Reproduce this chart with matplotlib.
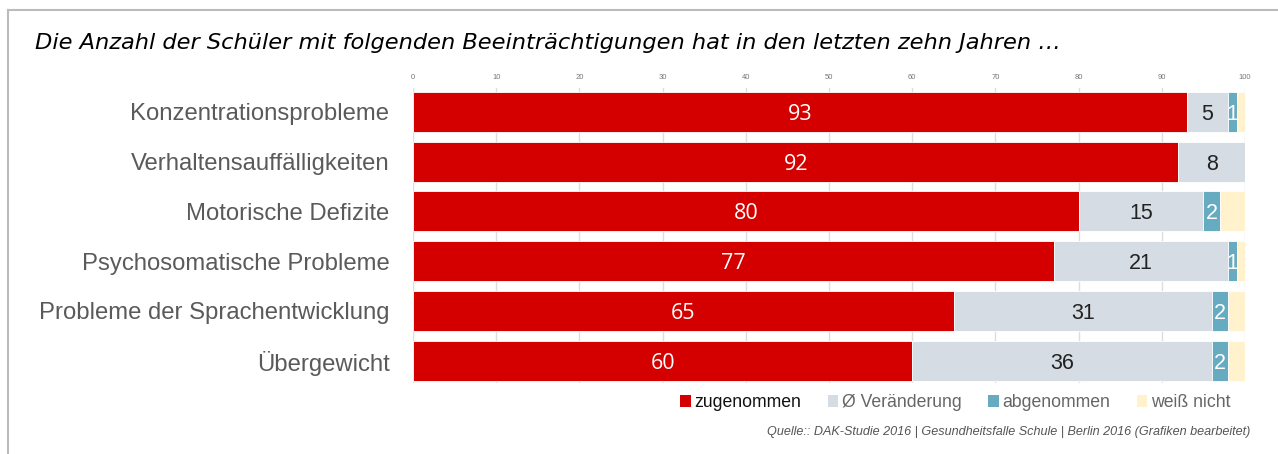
import matplotlib.pyplot as plt
import numpy as np
from matplotlib.lines import Line2D
from matplotlib.patches import Patch

categories = ["Konzentrationsprobleme", "Verhaltensauffälligkeiten", "Motorische Defizite",
              "Psychosomatische Probleme", "Probleme der Sprachentwicklung", "Übergewicht"]
zugenommen = [93, 92, 80, 77, 65, 60]
keine_veraenderung = [5, 8, 15, 21, 31, 36]
abgenommen = [1, 0, 2, 1, 2, 2]
weiss_nicht = [1, 0, 3, 1, 2, 2]

series = [
    ("zugenommen", zugenommen, "#D40000", "white"),
    ("Ø Veränderung", keine_veraenderung, "#D6DCE4", "#222222"),
    ("abgenommen", abgenommen, "#67ABC1", "white"),
    ("weiß nicht", weiss_nicht, "#FFF2CC", None),
]

plt.rcParams['font.family'] = ['Liberation Sans', 'DejaVu Sans']

fig = plt.figure(figsize=(12.78, 4.54), dpi=100)
ax = fig.add_axes([0.3232, 0.1564, 0.6510, 0.6498])

y = np.arange(len(categories))
left = np.zeros(len(categories))
for name, vals, color, tcolor in series:
    vals = np.array(vals, dtype=float)
    ax.barh(y, vals, left=left, height=0.8, color=color, edgecolor="white", linewidth=0.6, zorder=2)
    if tcolor is not None:
        for yi, l, v in zip(y, left, vals):
            if v <= 0:
                continue
            if name == "zugenommen":
                fam = ["Open Sans", "DejaVu Sans"]
            else:
                fam = ["Liberation Sans", "DejaVu Sans"]
            # small nudge down so digits sit in the middle of the bar
            ax.text(l + v / 2, yi + 0.05, f"{int(v)}", ha="center", va="center", color=tcolor,
                    fontsize=15.5, family=fam, zorder=3)
    left += vals

ax.set_xlim(0, 100)
ax.set_ylim(5.45, -0.48)
ax.set_yticks(y)
ax.set_yticklabels(categories, fontsize=17.2, color="#5a5a5a")
ax.tick_params(axis="y", length=0, pad=17)
ax.xaxis.tick_top()
ax.set_xticks(np.arange(0, 101, 10))
ax.tick_params(axis="x", labelsize=5.5, labelcolor="#777777", length=0, pad=5)
ax.grid(axis="x", color="#dddddd", linewidth=1, zorder=0)
for s in ax.spines.values():
    s.set_visible(False)

fig.text(0.027, 0.905, "Die Anzahl der Schüler mit folgenden Beeinträchtigungen hat in den letzten zehn Jahren …",
         fontsize=16.2, style="italic", color="black", ha="left", va="center",
         family=["DejaVu Sans"])

handles = [Patch(facecolor=c, edgecolor="none") for _, _, c, _ in series]
labels = [n for n, _, _, _ in series]
leg = fig.legend(handles, labels, loc="center right", bbox_to_anchor=(0.975, 0.113), ncol=4, frameon=False,
                 fontsize=12.7, handlelength=0.6, handleheight=0.6, handletextpad=0.2, columnspacing=1.5)
for i, t in enumerate(leg.get_texts()):
    t.set_color("#111111" if i == 0 else "#666666")

fig.text(0.978, 0.048, "Quelle:: DAK-Studie 2016 | Gesundheitsfalle Schule | Berlin 2016 (Grafiken bearbeitet)",
         fontsize=9.1, style="italic", color="#555555", ha="right", va="center")

fig.add_artist(Line2D([0.0063, 1.0], [0.978, 0.978], color="#bbbbbb", linewidth=1.5))
fig.add_artist(Line2D([0.0063, 0.0063], [0.0, 0.978], color="#bbbbbb", linewidth=1.5))

fig.savefig("out.png", dpi=100)
